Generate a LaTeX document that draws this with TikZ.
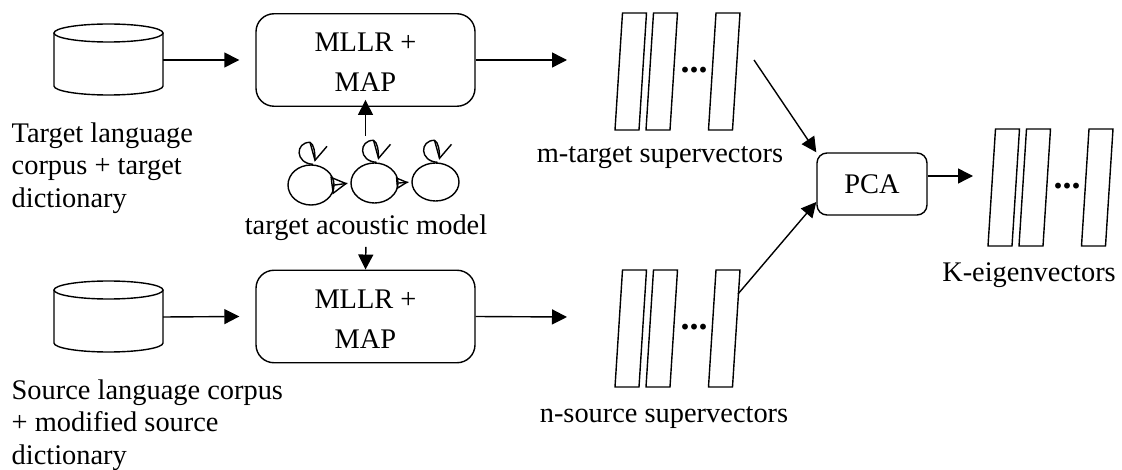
\documentclass[tikz,border=0pt]{standalone}
\usepackage{fontspec}
\setmainfont{Liberation Serif}
\usetikzlibrary{arrows.meta,shapes.geometric}
\tikzset{
	txt/.style={inner sep=0pt,font=\fontsize{28.4}{32.5}\selectfont},
	adapt/.style={draw,rounded corners=18pt,minimum width=219pt,minimum height=92.5pt,inner sep=0pt,align=center,font=\fontsize{28.4}{40}\selectfont},
	state/.style={draw,ellipse,inner sep=0pt,fill=white},
	pics/corpus/.style={code={
		\draw (-54.5,-27) -- (-54.5,26) arc[start angle=180,end angle=360,x radius=54.5pt,y radius=9pt] -- (54.5,-27);
		\draw (0,-27) ellipse[x radius=54.5pt,y radius=9pt];
		\coordinate (-out) at (54.5,0);
	}},
	pics/selfloop/.style={code={
		\draw (2,0) .. controls (-16,-1) and (-16,-22) .. (-1,-22) .. controls (3,-20) and (4,-12) .. (4,-4);
		\draw (-1,-22) -- (4,-4) -- (16,-18);
	}},
	pics/vecstack/.style={code={
		\foreach \o in {0,31,93.5}
			\draw (\o,0) -- (\o+24,0) -- (\o+31.5,-117) -- (\o+7.5,-117) -- cycle;
		\node[inner sep=0pt,anchor=base,font=\fontsize{36}{36}\selectfont\bfseries] (-dots) at (79,-57.5) {...};
		\coordinate (-out) at (123,-93);
	}}
}
\begin{document}
\begin{tikzpicture}[>={Triangle[length=15pt,width=15pt]},x=1pt,y=-1pt,line width=1.4pt]
	\useasboundingbox (0,0) rectangle (1122,470);
	% corpora
	\pic (tdb) at (108.5,60) {corpus};
	\pic (sdb) at (108.5,317) {corpus};
	\node[txt,align=left,anchor=north west] (tlab) at (11,122) {Target language\\corpus + target\\dictionary};
	\node[txt,align=left,anchor=north west] (slab) at (11,379) {Source language corpus\\+ modified source\\dictionary};
	% adaptation
	\node[adapt] (tmap) at (365.5,60) {\rule{0pt}{24pt}MLLR +\\MAP};
	\node[adapt] (smap) at (365.5,316.5) {\rule{0pt}{24pt}MLLR +\\MAP};
	\draw[->] (tdb-out) -- ([xshift=-16]tmap.west);
	\draw[->] (sdb-out) -- ([xshift=-16]smap.west);
	% acoustic model
	\node[state,minimum width=46pt,minimum height=40pt] (n1) at (311,185) {};
	\node[state,minimum width=47pt,minimum height=40pt] (n2) at (374.5,183) {};
	\node[state,minimum width=47pt,minimum height=38pt] (n3) at (435.5,182) {};
	\draw[-{Triangle[open,length=16pt,width=18pt]},shorten >=3pt] (n1.east) -- (n2.west);
	\draw[-{Triangle[open,length=12pt,width=12pt]},shorten >=3pt] (n2.east) -- (n3.west);
	\draw[shorten >=3pt] (n1.east) -- (n2.west);
	\draw[shorten >=3pt] (n2.east) -- (n3.west);
	\pic at (n1.north) {selfloop};
	\pic at (n2.north) {selfloop};
	\pic at (n3.north) {selfloop};
	\node[txt,anchor=base] (amlab) at (366,235) {target acoustic model};
	\coordinate (amtop) at (365.5,136);
	\draw[->] (amtop) -- ([yshift=7]tmap.south);
	\draw[->,shorten <=5pt] (amlab.south) -- (smap.north);
	% supervectors
	\pic (mvec) at (615,130) {vecstack};
	\pic (nvec) at (615,387) {vecstack};
	\pic (kvec) at (988,246) {vecstack};
	\coordinate (mout) at (754,60);
	\coordinate (tend) at (567,60);
	\coordinate (send) at (567,317);
	\coordinate (pend) at (973,176);
	\draw[->] (tmap.east) -- (tend);
	\draw[->] (smap.east) -- (send);
	\node[txt,anchor=base] (mlab) at (660,163) {m-target supervectors};
	\node[txt,anchor=base] (nlab) at (664,422) {n-source supervectors};
	\node[txt,anchor=base] (klab) at (1029,282) {K-eigenvectors};
	% pca
	\node[draw,rounded corners=10pt,minimum width=110pt,minimum height=62pt,inner sep=0pt,font=\fontsize{28.4}{32.5}\selectfont] (pca) at (872,184) {PCA};
	\draw[->] (mout) -- (pca.north west);
	\draw[->] (nvec-out) -- ([yshift=-18]pca.west);
	\draw[->] ([yshift=8]pca.east) -- (pend);
\end{tikzpicture}
\end{document}
